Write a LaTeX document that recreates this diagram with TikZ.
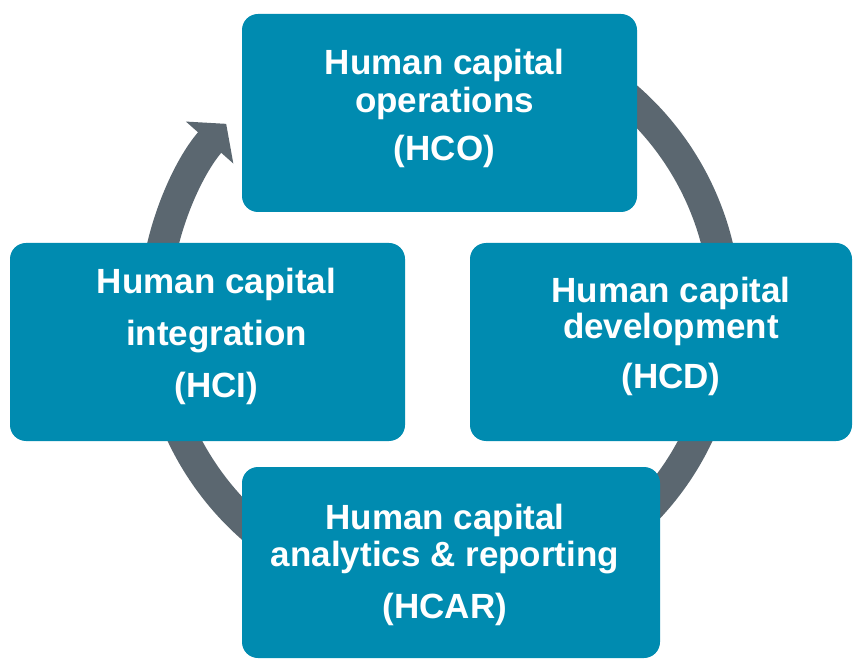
\documentclass[tikz,border=0pt]{standalone}
\usepackage{fontspec}
\setmainfont{Liberation Sans}
\usetikzlibrary{arrows.meta}
\usetikzlibrary{positioning}
\definecolor{stageblue}{RGB}{0,139,176}
\definecolor{ringgray}{RGB}{91,103,112}

\begin{document}
\begin{tikzpicture}[x=1pt,y=1pt,
    stage node/.style={fill=stageblue,rounded corners=16pt,inner sep=0pt},
    stage text/.style={text=white,align=center,inner sep=0pt,
                       font=\fontsize{35}{37}\selectfont\bfseries},
    cycle arrow/.style={draw=ringgray,line width=31pt,
                        -{Triangle[length=25pt,width=62pt]}}]
  \useasboundingbox (0,0) rectangle (853,659);

  \coordinate (hub) at (440,346);
  \draw[cycle arrow] (hub) ++(440:285.5) arc[start angle=440,end angle=138.5,radius=285.5];

  \node[stage node,minimum width=395pt,minimum height=198pt] (hco) at (439.5,546) {};
  \node[stage node,minimum width=395pt,minimum height=198pt] (hci) at (207.5,317) {};
  \node[stage node,minimum width=382pt,minimum height=198pt] (hcd) at (661,317) {};
  \node[stage node,minimum width=418pt,minimum height=191pt] (hcar) at (451,96.5) {};

  \node[stage text] (hco text) at ([shift={(5,5)}]hco.center)
    {Human capital\\[1pt] operations\\[11pt] (HCO)};
  \node[stage text] (hci text) at ([shift={(9,6)}]hci.center)
    {Human capital\\[15pt] integration\\[15pt] (HCI)};
  \node[stage text] (hcd text) at ([shift={(10,6)}]hcd.center)
    {Human capital\\[-1pt] development\\[13pt] (HCD)};
  \node[stage text] (hcar text) at ([shift={(-6,-2)}]hcar.center)
    {Human capital\\ analytics \& reporting\\[15pt] (HCAR)};
\end{tikzpicture}
\end{document}
